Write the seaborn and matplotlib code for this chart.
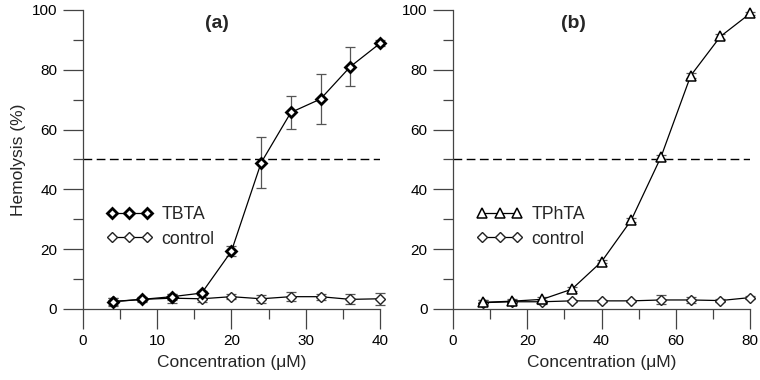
import numpy as np
import pandas as pd
import matplotlib
matplotlib.use("Agg")
import matplotlib.pyplot as plt
from matplotlib.ticker import MultipleLocator
import seaborn as sns

# ---- data ----
conc_a = [4, 8, 12, 16, 20, 24, 28, 32, 36, 40]
tbta = [2.4, 3.2, 4.1, 5.3, 19.3, 48.9, 65.7, 70.2, 81.0, 88.8]
tbta_err = [1.3, 0.8, 1.0, 0.8, 1.7, 8.5, 5.4, 8.3, 6.6, 1.0]
ctrl_a = [2.5, 3.2, 3.6, 3.4, 4.1, 3.4, 4.1, 4.1, 3.2, 3.4]
ctrl_a_err = [1.3, 0.5, 1.5, 1.2, 0.9, 1.4, 1.4, 1.0, 1.7, 2.0]

conc_b = [8, 16, 24, 32, 40, 48, 56, 64, 72, 80]
tphta = [2.2, 2.6, 3.2, 6.6, 15.8, 29.7, 50.8, 78.0, 91.1, 98.8]
tphta_err = [0.8, 0.6, 0.8, 0.6, 0.5, 0.6, 0.6, 0.8, 0.8, 0.5]
ctrl_b = [2.1, 2.4, 2.4, 2.7, 2.7, 2.7, 3.0, 3.0, 2.8, 3.8]
ctrl_b_err = [0.8, 0.6, 0.6, 0.3, 0.3, 0.3, 1.5, 1.0, 0.5, 0.4]

sns.set_style("ticks")
plt.rcParams['font.family'] = ['Liberation Sans', 'DejaVu Sans']

fig = plt.figure(figsize=(7.6, 3.8), dpi=100)
ax1 = fig.add_axes([0.109, 0.187, 0.391, 0.787])
ax2 = fig.add_axes([0.596, 0.187, 0.391, 0.787])


def draw(ax, x, y, yerr, cy, cyerr, name, marker, filled, xmax, title, tx):
    # error bars first (grey, capped)
    for yy, ee in [(y, yerr), (cy, cyerr)]:
        ax.errorbar(x, yy, yerr=ee, fmt="none", ecolor="#555555", elinewidth=0.9,
                    capsize=3.3, capthick=0.9, clip_on=False, zorder=2)
    df = pd.DataFrame({"x": list(x) * 2, "y": list(y) + list(cy),
                       "grp": [name] * len(x) + ["control"] * len(x)})
    if filled:
        mk = dict(marker="D", ms=4.6, mfc="white", mec="black", mew=2.0)
    else:
        mk = dict(marker="^", ms=6.5, mfc="white", mec="black", mew=1.1)
    sns.lineplot(data=df[df.grp == name], x="x", y="y", ax=ax, color="black",
                 lw=0.9, label=name, clip_on=False, zorder=4, **mk)
    sns.lineplot(data=df[df.grp == "control"], x="x", y="y", ax=ax, color="black",
                 lw=0.9, marker="D", ms=4.8, mfc="white", mec="#222222", mew=1.0,
                 label="control", clip_on=False, zorder=3)
    ax.axhline(50, color="black", lw=1.0, ls=(0, (6.3, 3.2)), zorder=1)
    ax.set_xlim(0, xmax)
    ax.set_ylim(0, 100)
    ax.yaxis.set_major_locator(MultipleLocator(20))
    ax.yaxis.set_minor_locator(MultipleLocator(10))
    ax.xaxis.set_major_locator(MultipleLocator(xmax / 4))
    ax.xaxis.set_minor_locator(MultipleLocator(xmax / 8))
    ax.tick_params(which="major", length=14.4, width=0.9, labelsize=11,
                   colors="#444444", labelcolor="black", pad=4)
    ax.tick_params(which="minor", length=7.2, width=0.9, colors="#444444")
    for s in ["top", "right"]:
        ax.spines[s].set_visible(False)
    for s in ["left", "bottom"]:
        ax.spines[s].set_color("#444444")
        ax.spines[s].set_linewidth(0.9)
    ax.set_xlabel("Concentration (\u03bcM)", fontsize=12.5, labelpad=5)
    ax.set_ylabel("")
    ax.text(tx, 95.5, title, fontsize=14, fontweight="bold", ha="center", va="center")
    ax.legend(loc="center left", bbox_to_anchor=(0.05, 0.275), frameon=False,
              numpoints=3, handlelength=2.6, fontsize=12.7, labelspacing=0.45,
              handletextpad=0.5, borderpad=0)


draw(ax1, conc_a, tbta, tbta_err, ctrl_a, ctrl_a_err, "TBTA", "D", True, 40, "(a)", 18.0)
draw(ax2, conc_b, tphta, tphta_err, ctrl_b, ctrl_b_err, "TPhTA", "^", False, 80, "(b)", 32.3)
ax1.set_ylabel("Hemolysis (%)", fontsize=12.5)

fig.savefig("out.png", dpi=100)
